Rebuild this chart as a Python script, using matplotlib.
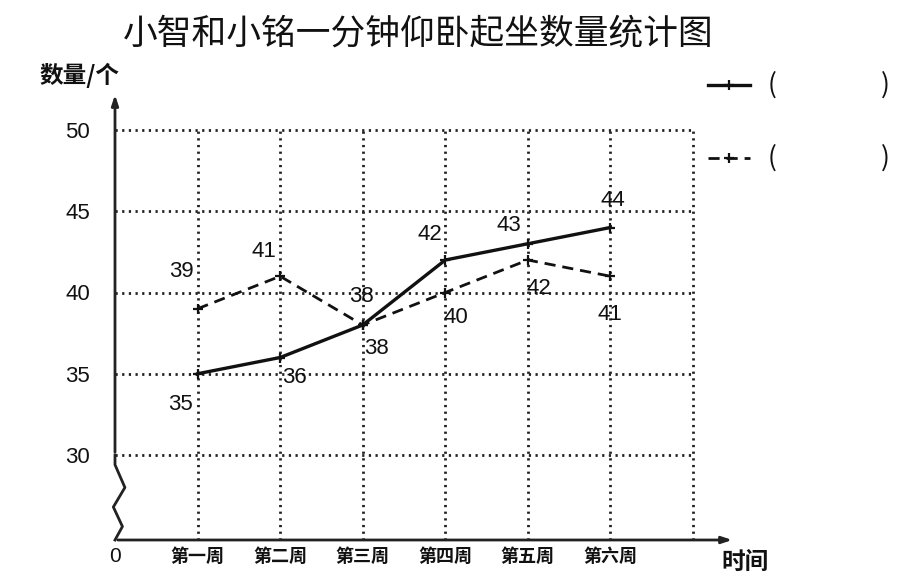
import matplotlib
matplotlib.use("Agg")
import matplotlib.pyplot as plt
import numpy as np

plt.rcParams['font.family'] = ['Noto Sans CJK SC', 'DejaVu Sans']

# ---- data ----
weeks = ["第一周", "第二周", "第三周", "第四周", "第五周", "第六周"]
xiaozhi = [35, 36, 38, 42, 43, 44]      # solid line
xiaoming = [39, 41, 38, 40, 42, 41]     # dashed line
y_ticks = [30, 35, 40, 45, 50]
title = "小智和小铭一分钟仰卧起坐数量统计图"

# label offsets (pixels) for value labels
solid_off = [(-17, -31), (14, -20), (14, -23), (-15, 26), (-19, 18), (2, 27)]
dash_off = [(-16, 37), (-16, 25), (-1, 29), (11, -25), (11, -28), (0, -38)]

W, H = 906, 584
fig = plt.figure(figsize=(W / 100, H / 100), dpi=100)

# pixel geometry
x0_px, xaxis_px = 115, 540
px_per_x = (693 - 115) / 7.0
px_per_y = (455 - 130) / 20.0
ymin = 30 - (xaxis_px - 455) / px_per_y
xmax = (735 - x0_px) / px_per_x
ymax = ymin + (xaxis_px - 92) / px_per_y

ax = fig.add_axes([x0_px / W, (H - xaxis_px) / H, (735 - x0_px) / W, (xaxis_px - 92) / H])
ax.set_xlim(0, xmax)
ax.set_ylim(ymin, ymax)
for s in ax.spines.values():
    s.set_visible(False)

n = len(weeks)
xs = np.arange(1, n + 1)
grid_right = n + 1

num_font = ['Liberation Sans', 'DejaVu Sans']

# dotted grid
dot = dict(color='#222222', lw=2.0, linestyle=(0, (0.8, 1.6)), zorder=1)
for yv in y_ticks:
    ax.plot([0, grid_right], [yv, yv], **dot)
for xv in list(xs) + [grid_right]:
    ax.plot([xv, xv], [ymin, max(y_ticks)], **dot)

# axes with arrows
ax.annotate("", xy=(xmax, ymin), xytext=(0, ymin),
            arrowprops=dict(arrowstyle='-|>,head_length=0.6,head_width=0.2', color='#222222', lw=2),
            annotation_clip=False)
ax.annotate("", xy=(0, ymax), xytext=(0, 30),
            arrowprops=dict(arrowstyle='-|>,head_length=0.6,head_width=0.2', color='#222222', lw=2),
            annotation_clip=False)
# zigzag break on y-axis
zz_x = np.array([0, 0, 0.12, -0.02, 0.09, 0])
zz_y = np.array([30, 29.4, 28.0, 26.8, 25.6, ymin])
ax.plot(zz_x, zz_y, color='#222222', lw=2, clip_on=False, zorder=3)

# lines
ax.plot(xs, xiaozhi, color='#111111', lw=2.4, marker='+', ms=7, mew=1.6, zorder=4, clip_on=False)
ax.plot(xs, xiaoming, color='#111111', lw=2.0, linestyle=(0, (4, 2.5)), marker='+', ms=7, mew=1.6,
        zorder=4, clip_on=False)

lab_kw = dict(textcoords='offset pixels', ha='center', va='center', fontsize=16,
              family=num_font, color='#111111', zorder=5)
for x, v, o in zip(xs, xiaozhi, solid_off):
    ax.annotate(str(v), (x, v), xytext=o, **lab_kw)
for x, v, o in zip(xs, xiaoming, dash_off):
    ax.annotate(str(v), (x, v), xytext=o, **lab_kw)

# ticks
ax.set_yticks(y_ticks)
ax.set_yticklabels([str(v) for v in y_ticks], fontsize=16, family=num_font, color='#111111')
ax.tick_params(axis='y', length=0, pad=18)
ax.set_xticks([0] + list(xs))
ax.set_xticklabels(["0"] + weeks, fontsize=13, fontweight='bold', color='#111111')
ax.tick_params(axis='x', length=0, pad=5)
zero_lab = ax.get_xticklabels()[0]
zero_lab.set_family(num_font)
zero_lab.set_fontsize(15)
zero_lab.set_fontweight('normal')

# axis labels
fig.text(745 / W, 1 - 562 / H, "时间", fontsize=17, fontweight='bold', ha='center', va='center',
         color='#111111')
fig.text(80 / W, 1 - 75 / H, "数量/个", fontsize=17, fontweight='bold', ha='center', va='center',
         color='#111111')

# title
fig.text(418 / W, 1 - 34 / H, title, fontsize=25, ha='center', va='center', color='#111111')

# legend-like markers
for ypx, ls, lw in [(85, '-', 2.4), (158, (0, (4, 2.5)), 2.0)]:
    yf = 1 - ypx / H
    fig.add_artist(plt.Line2D([708 / W, 750 / W], [yf, yf], color='#111111', lw=lw, linestyle=ls,
                              marker=None))
    fig.add_artist(plt.Line2D([729 / W], [yf], color='#111111', marker='+', ms=7, mew=1.6))
    fig.text(772 / W, yf, "(", fontsize=19, ha='center', va='center', color='#111111')
    fig.text(885 / W, yf, ")", fontsize=19, ha='center', va='center', color='#111111')

fig.savefig("out.png", dpi=100)
